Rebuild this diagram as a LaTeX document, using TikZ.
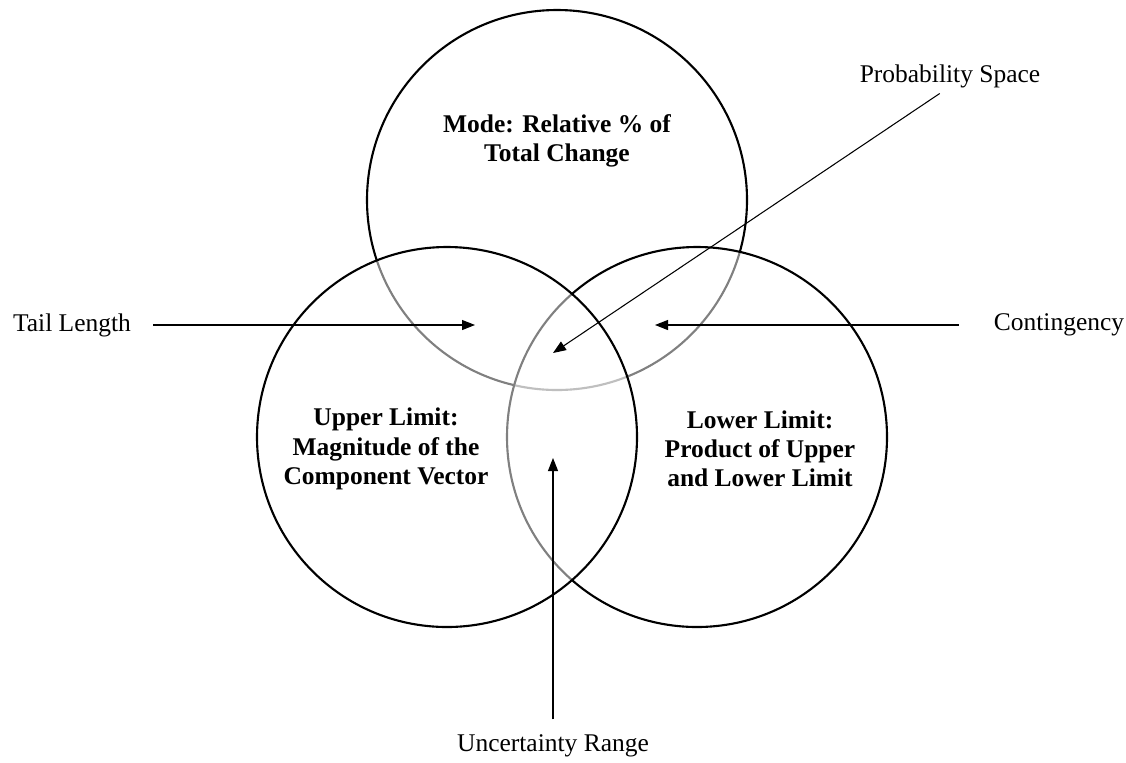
\documentclass[tikz,border=0pt]{standalone}
\usepackage{fontspec}
\setmainfont{Liberation Serif}
\usetikzlibrary{arrows.meta}
\tikzset{
  setcircle/.style={draw, line width=1.2pt, fill=white, fill opacity=0.5, text opacity=1},
  inlabel/.style={font=\fontsize{14.5}{16.6}\selectfont\bfseries, align=center},
  outlabel/.style={font=\fontsize{14.5}{16.6}\selectfont, inner sep=0pt},
  pointer/.style={-{Triangle[length=0.26cm,width=0.2cm]}, line width=0.6pt}
}
\begin{document}
\begin{tikzpicture}[x=0.02cm,y=0.02cm]
\useasboundingbox (0,0) rectangle (1126,-762);
% the three sets
\draw[setcircle] (557,-200) circle (190);
\draw[setcircle] (697,-437) circle (190);
\draw[setcircle] (447,-437) circle (190);

\node[inlabel] (mode) at (557,-141) {Mode: Relative \% of\\ Total Change};
\node[inlabel] (upper) at (386,-449) {Upper Limit:\\ Magnitude of the\\ Component Vector};
\node[inlabel] (lower) at (760,-449) {Lower Limit:\\ Product of Upper\\ and Lower Limit};

\node[outlabel] (tail) at (72,-325) {Tail Length};
\node[outlabel] (cont) at (1059,-325) {Contingency};
\node[outlabel] (prob) at (950,-76) {Probability Space};
\node[outlabel] (unc) at (553,-746) {Uncertainty Range};

\coordinate (tailend) at (475,-325);
\coordinate (contend) at (655,-325);
\coordinate (probend) at (553,-353);
\coordinate (uncend) at (553,-458);

\draw[pointer, shorten <=0.44cm] (tail.east) -- (tailend);
\draw[pointer, shorten <=0.7cm] (cont.west) -- (contend);
\draw[pointer, shorten <=0.2cm] (prob.south -| 948,0) -- (probend);
\draw[pointer, shorten <=0.3cm] (unc.north) -- (uncend);
\end{tikzpicture}
\end{document}
